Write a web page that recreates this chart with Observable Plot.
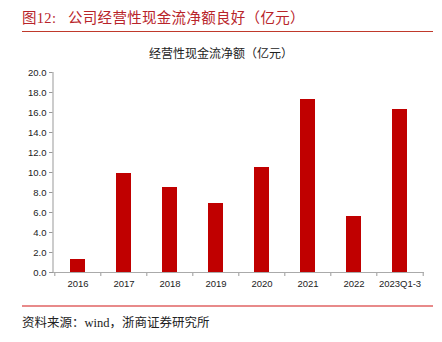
<!DOCTYPE html>
<html><head><meta charset="utf-8">
<script src="https://cdn.jsdelivr.net/npm/d3@7"></script>
<script src="https://cdn.jsdelivr.net/npm/@observablehq/plot@0.6"></script>
<style>
body{margin:0;background:#fff;}
#wrap{position:relative;width:442px;height:342px;overflow:hidden;font-family:"Liberation Serif","Noto Sans CJK SC",serif;}
#title{position:absolute;left:22px;top:6px;font-size:14.5px;color:#b8242a;white-space:nowrap;letter-spacing:0.3px;}
#line1{position:absolute;left:22px;top:31px;width:411px;height:1px;background:#c0392b;}
#sub{position:absolute;left:0;width:442px;top:44px;text-align:center;font-size:12px;font-family:"Noto Sans CJK SC",sans-serif;color:#222;}
#chart{position:absolute;left:0;top:62px;}
#line2{position:absolute;left:22px;top:305px;width:411px;height:1.5px;background:#e88a8a;}
#cap{position:absolute;left:22px;top:312px;font-size:12.5px;color:#222;white-space:nowrap;}
</style></head>
<body><div id="wrap">
<div id="title">图12:&nbsp;&nbsp;&nbsp;公司经营性现金流净额良好（亿元）</div>
<div id="line1"></div>
<div id="sub">经营性现金流净额（亿元）</div>
<div id="chart"></div>
<div id="line2"></div>
<div id="cap">资料来源：wind，浙商证券研究所</div>
</div>
<script>
const categories = ["2016","2017","2018","2019","2020","2021","2022","2023Q1-3"];
const values = [1.3, 9.9, 8.5, 6.9, 10.5, 17.3, 5.6, 16.3];
const yTicks = [0,2,4,6,8,10,12,14,16,18,20];

const data = categories.map((c,i)=>({cat:c, v:values[i]}));
const W = 442, ML = 53, MR = 18;
const step = (W - ML - MR) / categories.length;

const chart = Plot.plot({
  width: W, height: 232,
  marginLeft: ML, marginRight: MR, marginTop: 10, marginBottom: 22,
  style: {fontFamily: "'Liberation Sans', 'Open Sans', sans-serif", fontSize: "9.5px", color: "#222"},
  x: {domain: categories, paddingInner: 0.68, paddingOuter: 0.34, align: 0.5, label: null},
  y: {domain: [0, 20], label: null},
  marks: [
    Plot.barY(data, {x: "cat", y: "v", fill: "#c00000"}),
    Plot.axisY({ticks: yTicks, tickFormat: d => d.toFixed(1), tickSize: 4, stroke: "#999", tickPadding: 3, label: null}),
    Plot.axisX({tickSize: 0, tickPadding: 8, label: null}),
    Plot.axisX({ticks: categories, tickSize: 4, text: null, dx: -step/2, stroke: "#999", label: null}),
    Plot.axisX({ticks: [categories[categories.length-1]], tickSize: 4, text: null, dx: step/2, stroke: "#999", label: null}),
    Plot.ruleY([0], {stroke: "#aaa", strokeWidth: 1})
  ]
});
document.getElementById("chart").appendChild(chart);
const svg = d3.select(chart);
svg.append("line").attr("x1", ML).attr("x2", ML).attr("y1", 10).attr("y2", 210).attr("stroke", "#bbb").attr("stroke-width", 1.5);
</script>
</body></html>
